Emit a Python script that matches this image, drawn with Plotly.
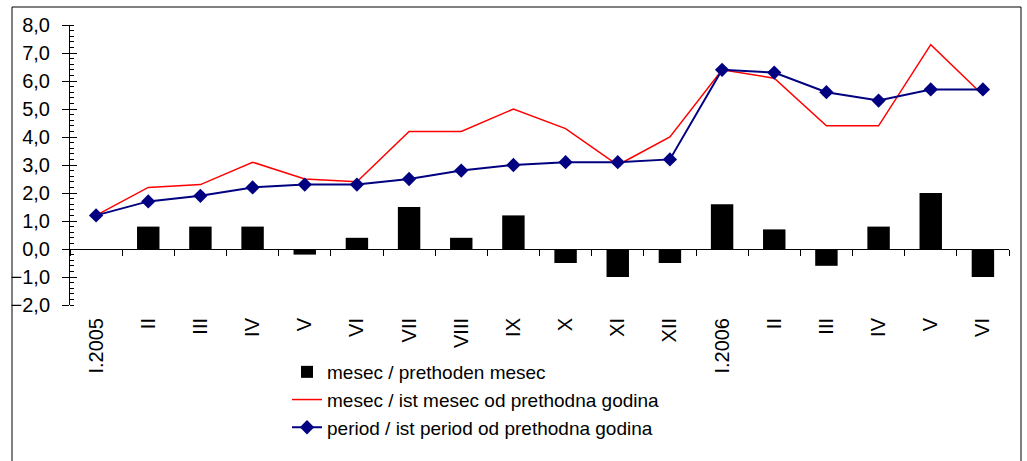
import plotly.graph_objects as go

categories = ["I.2005", "II", "III", "IV", "V", "VI", "VII", "VIII", "IX", "X", "XI", "XII",
              "I.2006", "II", "III", "IV", "V", "VI"]
mesec_prethoden = [0.0, 0.8, 0.8, 0.8, -0.2, 0.4, 1.5, 0.4, 1.2, -0.5, -1.0, -0.5,
                   1.6, 0.7, -0.6, 0.8, 2.0, -1.0]
mesec_ist_mesec = [1.2, 2.2, 2.3, 3.1, 2.5, 2.4, 4.2, 4.2, 5.0, 4.3, 3.0, 4.0,
                   6.4, 6.1, 4.4, 4.4, 7.3, 5.5]
period_ist_period = [1.2, 1.7, 1.9, 2.2, 2.3, 2.3, 2.5, 2.8, 3.0, 3.1, 3.1, 3.2,
                     6.4, 6.3, 5.6, 5.3, 5.7, 5.7]
y_ticks = [-2, -1, 0, 1, 2, 3, 4, 5, 6, 7, 8]

names = ["mesec / prethoden mesec",
         "mesec / ist mesec od prethodna godina",
         "period / ist period od prethodna godina"]

xs = list(range(len(categories)))
boundaries = [i - 0.5 for i in range(len(categories) + 1)]

W, H = 1027, 461
L, R, T, B = 70, 18, 25, 156
pw, ph = W - L - R, H - T - B
ymin, ymax = -2, 8
zero_pos = (0 - ymin) / (ymax - ymin)

FONT = "Liberation Sans, Arial, sans-serif"

fig = go.Figure()
fig.add_trace(go.Bar(x=xs, y=mesec_prethoden, name=names[0], marker_color="black",
                     marker_line_width=0, width=0.43))
fig.add_trace(go.Scatter(x=xs, y=mesec_ist_mesec, name=names[1], mode="lines",
                         line=dict(color="#ff0000", width=1.5)))
fig.add_trace(go.Scatter(x=xs, y=period_ist_period, name=names[2], mode="lines+markers",
                         line=dict(color="#000080", width=2),
                         marker=dict(symbol="diamond", size=11, color="#000080")))
# invisible helper trace to activate overlay axes
fig.add_trace(go.Scatter(x=xs, y=period_ist_period, xaxis="x2", yaxis="y2", mode="markers",
                         marker=dict(opacity=0), showlegend=False, hoverinfo="skip"))

fig.update_layout(
    width=W, height=H,
    margin=dict(l=L, r=R, t=T, b=B),
    paper_bgcolor="white", plot_bgcolor="white",
    separators=", ",
    font=dict(family=FONT, size=20, color="black"),
    bargap=0.57,
    showlegend=True,
    legend=dict(x=(287 - L) / pw, y=(305 - 353) / ph, xanchor="left", yanchor="top",
                bgcolor="rgba(0,0,0,0)", font=dict(size=19), traceorder="normal",
                tracegroupgap=0),
    xaxis=dict(range=[-0.5, len(categories) - 0.5], tickmode="array", tickvals=xs,
               ticktext=categories, tickangle=-90, showline=False, showgrid=False,
               zeroline=False, ticks="", ticklabelstandoff=8, tickfont=dict(size=20)),
    xaxis2=dict(overlaying="x", anchor="free", position=zero_pos,
                range=[-0.5, len(categories) - 0.5], tickmode="array", tickvals=boundaries,
                ticks="outside", ticklen=6, tickcolor="black", showticklabels=False,
                showline=True, linecolor="black", linewidth=1, showgrid=False, zeroline=False),
    yaxis=dict(range=[ymin, ymax], tickmode="array", tickvals=y_ticks, tickformat=".1f",
               ticks="outside", ticklen=7, tickcolor="black", showline=True,
               linecolor="black", linewidth=1, showgrid=False, zeroline=False,
               ticklabelstandoff=8,
               minor=dict(dtick=0.2, ticks="inside", ticklen=4, tickcolor="black"),
               tickfont=dict(size=20)),
    yaxis2=dict(overlaying="y", range=[ymin, ymax], tickmode="array", tickvals=y_ticks,
                ticks="inside", ticklen=7, tickcolor="black", showticklabels=False,
                showline=False, showgrid=False, zeroline=False, side="left"),
)

# outer chart border
fig.add_shape(type="rect", xref="paper", yref="paper",
              x0=(12 - L) / pw, x1=(1021 - L) / pw,
              y0=(305 - 470) / ph, y1=(305 - 7) / ph,
              line=dict(color="black", width=1), fillcolor="rgba(0,0,0,0)", layer="below")

fig.write_html("out.html", config={"displayModeBar": False},
               post_script="document.body.style.margin='0';")
